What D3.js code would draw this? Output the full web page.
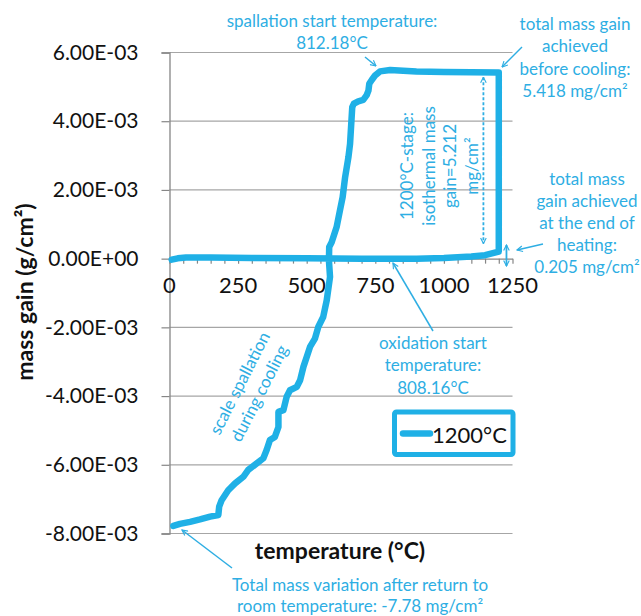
<!DOCTYPE html>
<html>
<head>
<meta charset="utf-8">
<script src="https://cdn.jsdelivr.net/npm/d3@7"></script>
<style>
  html, body { margin: 0; padding: 0; background: #fff; }
  svg { display: block; font-family: Lato, "Open Sans", sans-serif; }
</style>
</head>
<body>
<svg id="chart" width="641" height="616"></svg>
<script>
// Thermogravimetric run at 1200°C: temperature (°C) vs. mass gain (g/cm²)
const heatingTemp = [8, 30, 60, 150, 300, 500, 700, 900, 1000, 1100, 1150, 1200];
const heatingMass = [-0.00003, 0.00001, 0.00003, 0.00003, 0.00002, 0.00001, 0.0, 0.0, 0.00002, 0.00006, 0.0001, 0.000205];

const isothermTemp = [1200, 1200];
const isothermMass = [0.000205, 0.005418];

const coolingTemp = [1200, 1000, 900, 804, 767, 749, 737, 728, 725, 718, 706, 688, 672, 666, 658, 652, 640, 631, 621, 609, 591, 582, 581,
  585, 573, 560, 542, 530, 512, 500, 488, 476, 464, 439, 427, 415, 397, 397, 384, 366, 354, 342, 318, 287, 269, 239, 214, 190, 181, 178, 148, 111, 75, 38, 14];
const coolingMass = [0.005418, 0.00543, 0.00545, 0.00549, 0.00545, 0.00533, 0.0052, 0.00509, 0.00489, 0.00475, 0.00462, 0.00458, 0.00451, 0.00441, 0.00334, 0.00295, 0.00237, 0.00179, 0.0014, 0.00092, 0.00048, 0.00034, -0.00005,
  -0.00053, -0.00121, -0.0017, -0.00199, -0.00233, -0.00257, -0.00286, -0.00315, -0.00354, -0.00373, -0.00383, -0.00402, -0.00441, -0.00446, -0.0049, -0.00519, -0.00528, -0.00557, -0.00581, -0.00596, -0.00615, -0.00635, -0.00654, -0.00674, -0.00703, -0.00722, -0.00746, -0.00751, -0.00759, -0.00766, -0.00772, -0.00778];

const xTicks = [0, 250, 500, 750, 1000, 1250];
const yTicks = [-0.008, -0.006, -0.004, -0.002, 0, 0.002, 0.004, 0.006];
const yTickLabels = ["-8.00E-03", "-6.00E-03", "-4.00E-03", "-2.00E-03", "0.00E+00", "2.00E-03", "4.00E-03", "6.00E-03"];
const seriesName = "1200°C";

const blue = "#1fb0e6";
const noteBlue = "#2eaee3";
const svg = d3.select("#chart");

const x = d3.scaleLinear().domain([0, 1250]).range([169.5, 512.5]);
const y = d3.scaleLinear().domain([-0.008, 0.006]).range([533.5, 52.5]);

// arrowheads
const defs = svg.append("defs");
function marker(id) {
  defs.append("marker").attr("id", id).attr("viewBox", "0 0 10 10")
    .attr("refX", 9).attr("refY", 5).attr("markerWidth", 7).attr("markerHeight", 7)
    .attr("orient", "auto-start-reverse").attr("markerUnits", "userSpaceOnUse")
    .append("path").attr("d", "M1,1 L9,5 L1,9").attr("fill", "none")
    .attr("stroke", noteBlue).attr("stroke-width", 1.6);
}
marker("arr");

// horizontal gridlines
svg.append("g").selectAll("line").data(yTicks.filter(d => d !== 0)).join("line")
  .attr("x1", x(0)).attr("x2", x(1250))
  .attr("y1", d => y(d)).attr("y2", d => y(d))
  .attr("stroke", "#a6a6a6").attr("stroke-width", 1.2);

// y axis
const yAxis = svg.append("g").attr("transform", `translate(${x(0)},0)`)
  .call(d3.axisLeft(y).tickValues(yTicks).tickSize(8).tickFormat((d, i) => yTickLabels[i]));
yAxis.select(".domain").attr("stroke", "#868686").attr("stroke-width", 1.3);
yAxis.selectAll(".tick line").attr("stroke", "#868686").attr("stroke-width", 1.2);
yAxis.selectAll(".tick text").attr("font-size", 21).attr("fill", "#111").attr("x", -31)
  .attr("font-family", "Lato, sans-serif");

// x axis at zero with minor ticks every 50
const xAxis = svg.append("g").attr("transform", `translate(0,${y(0)})`)
  .call(d3.axisBottom(x).tickValues(d3.range(0, 1251, 50)).tickSize(5).tickSizeOuter(0).tickFormat(""));
xAxis.select(".domain").attr("stroke", "#868686").attr("stroke-width", 1.3);
xAxis.selectAll(".tick line").attr("stroke", "#868686").attr("stroke-width", 1.2);
svg.append("g").selectAll("text").data(xTicks).join("text")
  .attr("x", d => x(d)).attr("y", y(0) + 34)
  .attr("text-anchor", "middle").attr("font-size", 22).attr("fill", "#111")
  .text(d => d);

// series line
const line = d3.line().x(d => x(d[0])).y(d => y(d[1]));
const pts = [
  ...heatingTemp.map((t, i) => [t, heatingMass[i]]),
  ...isothermTemp.map((t, i) => [t, isothermMass[i]]).slice(1),
  ...coolingTemp.map((t, i) => [t, coolingMass[i]]).slice(1)
];
svg.append("path").datum(pts).attr("d", line)
  .attr("fill", "none").attr("stroke", blue).attr("stroke-width", 6.5)
  .attr("stroke-linejoin", "round").attr("stroke-linecap", "round");

// axis titles
svg.append("text").attr("x", 340).attr("y", 559).attr("text-anchor", "middle")
  .attr("font-size", 23).attr("font-weight", "bold").attr("fill", "#111").text("temperature (°C)");
svg.append("text").attr("transform", "translate(33,292) rotate(-90)").attr("text-anchor", "middle")
  .attr("font-size", 23).attr("font-weight", "bold").attr("fill", "#111").text("mass gain (g/cm²)");

// legend
svg.append("rect").attr("x", 394.5).attr("y", 412).attr("width", 118.5).attr("height", 42.5).attr("rx", 2)
  .attr("fill", "#fff").attr("stroke", blue).attr("stroke-width", 5);
svg.append("line").attr("x1", 403).attr("x2", 430).attr("y1", 433.5).attr("y2", 433.5)
  .attr("stroke", blue).attr("stroke-width", 6.5).attr("stroke-linecap", "round");
svg.append("text").attr("x", 432).attr("y", 434).attr("dominant-baseline", "central")
  .attr("font-size", 22).attr("fill", "#111").text(seriesName);

// annotations
const notes = svg.append("g").attr("fill", noteBlue).attr("font-size", 17).attr("text-anchor", "middle");
function block(cx, cy0, lines, step) {
  lines.forEach((t, i) => notes.append("text").attr("x", cx).attr("y", cy0 + i * step)
    .attr("dominant-baseline", "central").text(t));
}
block(332, 20, ["spallation start temperature:", "812.18°C"], 22);
block(575, 23, ["total mass gain", "achieved", "before cooling:", "5.418 mg/cm²"], 22.5);
block(587, 178, ["total mass", "gain achieved", "at the end of", "heating:", "0.205 mg/cm²"], 22);
block(433, 342, ["oxidation start", "temperature:", "808.16°C"], 22.5);
block(360, 584, ["Total mass variation after return to", "room temperature: -7.78 mg/cm²"], 21.5);

// rotated notes
const iso = notes.append("text").attr("transform", "translate(439,166) rotate(-90)");
["1200°C-stage:", "isothermal mass", "gain=5.212", "mg/cm²"].forEach((t, i) =>
  iso.append("tspan").attr("x", 0).attr("y", -32.5 + i * 21.7).attr("dominant-baseline", "central").text(t));
const spal = notes.append("text").attr("transform", "translate(249,388) rotate(-63)");
["scale spallation", "during cooling"].forEach((t, i) =>
  spal.append("tspan").attr("x", 0).attr("y", -11 + i * 22).attr("dominant-baseline", "central").text(t));

// pointer arrows
const arrows = [
  [365, 57, 376, 66],
  [522, 47, 502, 67],
  [543, 244, 517, 250],
  [433, 331, 393, 263],
  [232, 568, 182, 530]
];
svg.append("g").selectAll("line").data(arrows).join("line")
  .attr("x1", d => d[0]).attr("y1", d => d[1]).attr("x2", d => d[2]).attr("y2", d => d[3])
  .attr("stroke", noteBlue).attr("stroke-width", 1.5).attr("marker-end", "url(#arr)");

// isothermal gain span (dashed double arrow) and end-of-heating span
svg.append("line").attr("x1", x(1144)).attr("x2", x(1144)).attr("y1", y(0.00528)).attr("y2", y(0.00044))
  .attr("stroke", noteBlue).attr("stroke-width", 1.8).attr("stroke-dasharray", "3,2")
  .attr("marker-start", "url(#arr)").attr("marker-end", "url(#arr)");
svg.append("line").attr("x1", x(1228)).attr("x2", x(1228)).attr("y1", 245).attr("y2", 266)
  .attr("stroke", noteBlue).attr("stroke-width", 1.8)
  .attr("marker-start", "url(#arr)").attr("marker-end", "url(#arr)");
</script>
</body>
</html>
